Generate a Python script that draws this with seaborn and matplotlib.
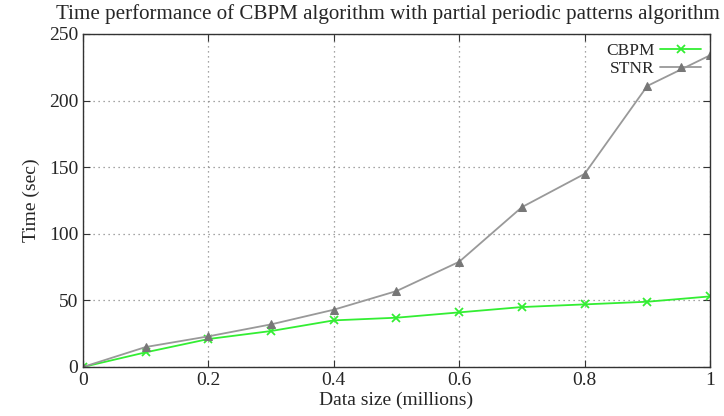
import matplotlib
matplotlib.use("Agg")
import matplotlib.pyplot as plt
import seaborn as sns
import pandas as pd

data_size = [0, 0.1, 0.2, 0.3, 0.4, 0.5, 0.6, 0.7, 0.8, 0.9, 1.0]
cbpm = [0, 11, 21, 27, 35, 37, 41, 45, 47, 49, 53]
stnr = [0, 15, 23, 32, 43, 57, 79, 120, 145, 211, 234]

sns.set_style("ticks")
plt.rcParams['font.family'] = ['Liberation Serif', 'DejaVu Serif']

df = pd.DataFrame({
    "x": data_size * 2,
    "y": cbpm + stnr,
    "series": ["CBPM"] * len(cbpm) + ["STNR"] * len(stnr),
})

fig = plt.figure(figsize=(7.24, 4.16), dpi=100)
ax = fig.add_axes([0.1146, 0.1178, 0.8661, 0.8005])

sns.lineplot(data=df[df.series == "CBPM"], x="x", y="y", ax=ax, color="#33ee33",
             marker="x", markersize=6, markeredgewidth=1.3, markeredgecolor="#33ee33",
             linewidth=1.3, label="CBPM")
sns.lineplot(data=df[df.series == "STNR"], x="x", y="y", ax=ax, color="#999999",
             marker="^", markersize=5.5, markerfacecolor="#777777", markeredgecolor="#777777",
             linewidth=1.3, label="STNR")

ax.set_xlim(0, 1)
ax.set_ylim(0, 250)
ax.set_xticks([0, 0.2, 0.4, 0.6, 0.8, 1])
ax.set_xticklabels(["0", "0.2", "0.4", "0.6", "0.8", "1"])
ax.set_yticks([0, 50, 100, 150, 200, 250])
ax.grid(True, linestyle=(0, (1, 3)), color="#888888", linewidth=0.9)
ax.tick_params(direction="in", top=True, right=True, labelsize=14, length=5, color="#333333")
for s in ax.spines.values():
    s.set_color("#333333")
    s.set_linewidth(1.0)

ax.set_xlabel("Data size (millions)", fontsize=14, labelpad=2)
ax.set_ylabel("Time (sec)", fontsize=14, labelpad=6)
ax.set_title("Time performance of CBPM algorithm with partial periodic patterns algorithm",
             fontsize=15.1, pad=11, x=0.487)

leg = ax.legend(loc="upper right", frameon=False, markerfirst=False, fontsize=12.5,
                handlelength=2.4, borderaxespad=0.1, labelspacing=0.1, handletextpad=0.3)

fig.savefig("out.png", dpi=100)
